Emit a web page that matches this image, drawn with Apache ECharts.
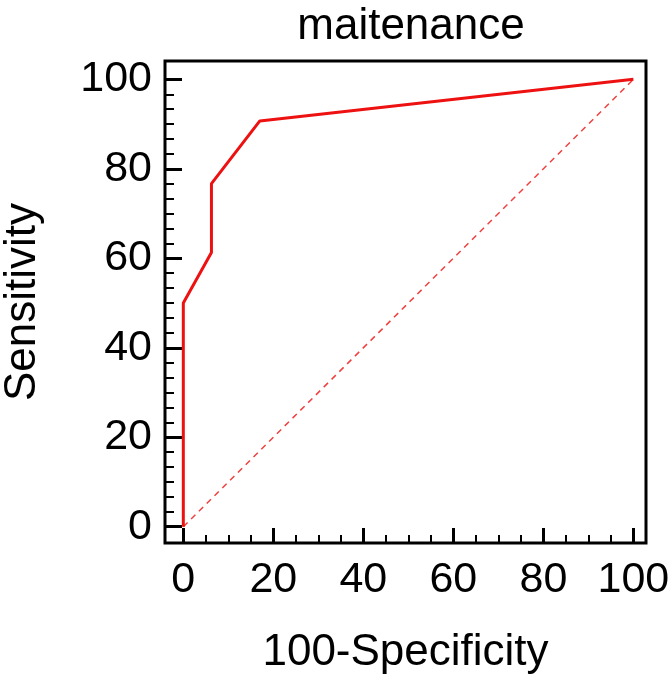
<!DOCTYPE html>
<html>
<head>
<meta charset="utf-8">
<script src="https://cdn.jsdelivr.net/npm/echarts@6/dist/echarts.min.js"></script>
<style>html,body{margin:0;padding:0;background:#fff;}#c{width:669px;height:681px;}</style>
</head>
<body>
<div id="c"></div>
<script>
const titleText = 'maitenance';
const xName = '100-Specificity';
const yName = 'Sensitivity';
const rocX = [0, 0, 6.25, 6.25, 17, 100];
const rocY = [0, 50, 61.3, 76.7, 90.7, 100];
const diagX = [0, 100];
const diagY = [0, 100];
const majorTicks = [0, 20, 40, 60, 80, 100];
const xMinorTicks = [5, 10, 15, 25, 30, 35, 45, 50, 55, 65, 70, 75, 85, 90, 95];
const yMinorTicks = [];
for (let k = 0; k < 30; k++) { if (k % 6 !== 0) yMinorTicks.push(k * 20 / 6); }

const FONT = 'Liberation Sans, Arial, sans-serif';
const chart = echarts.init(document.getElementById('c'), null, {renderer: 'canvas'});
const xMin = -4.07, xMax = 102.8, yMin = -3.64, yMax = 104.1;

function pairs(xs, ys) { return xs.map((x, i) => [x, ys[i]]); }

chart.setOption({
  animation: false,
  backgroundColor: '#fff',
  title: {
    text: titleText, left: 406, top: 0, textAlign: 'center',
    textStyle: {fontFamily: FONT, fontSize: 44, fontWeight: 'normal', color: '#000'}
  },
  grid: {left: 165, top: 61, width: 481, height: 482, show: true, borderColor: '#000', borderWidth: 3,
         backgroundColor: 'transparent', containLabel: false, outerBoundsMode: 'none'},
  xAxis: [{
    type: 'value', min: xMin, max: xMax, position: 'bottom',
    axisLine: {show: false, onZero: false}, splitLine: {show: false},
    axisTick: {show: true, inside: true, length: 15, lineStyle: {color: '#000', width: 3}, customValues: majorTicks},
    axisLabel: {show: true, customValues: majorTicks, margin: 16, fontFamily: FONT, fontSize: 43, color: '#000'},
    name: xName, nameLocation: 'middle', nameGap: 88,
    nameTextStyle: {fontFamily: FONT, fontSize: 44, color: '#000'}
  }, {
    type: 'value', min: xMin, max: xMax, position: 'bottom',
    axisLine: {show: false, onZero: false}, splitLine: {show: false}, axisLabel: {show: false},
    axisTick: {show: true, inside: true, length: 8, lineStyle: {color: '#000', width: 2}, customValues: xMinorTicks}
  }],
  yAxis: [{
    type: 'value', min: yMin, max: yMax, position: 'left',
    axisLine: {show: false, onZero: false}, splitLine: {show: false},
    axisTick: {show: true, inside: true, length: 17, lineStyle: {color: '#000', width: 3}, customValues: majorTicks},
    axisLabel: {show: true, customValues: majorTicks, margin: 13, fontFamily: FONT, fontSize: 43, color: '#000'},
    name: yName, nameLocation: 'middle', nameGap: 120, nameRotate: 90,
    nameTextStyle: {fontFamily: FONT, fontSize: 44, color: '#000'}
  }, {
    type: 'value', min: yMin, max: yMax, position: 'left',
    axisLine: {show: false, onZero: false}, splitLine: {show: false}, axisLabel: {show: false},
    axisTick: {show: true, inside: true, length: 9, lineStyle: {color: '#000', width: 2}, customValues: yMinorTicks}
  }],
  series: [{
    type: 'line', xAxisIndex: 0, yAxisIndex: 0, data: pairs(diagX, diagY),
    symbol: 'none', lineStyle: {color: '#f04040', width: 1.5, type: [6, 5]}
  }, {
    type: 'line', xAxisIndex: 0, yAxisIndex: 0, data: pairs(rocX, rocY),
    symbol: 'none', lineStyle: {color: '#ee1111', width: 3}
  }]
});
</script>
</body>
</html>
